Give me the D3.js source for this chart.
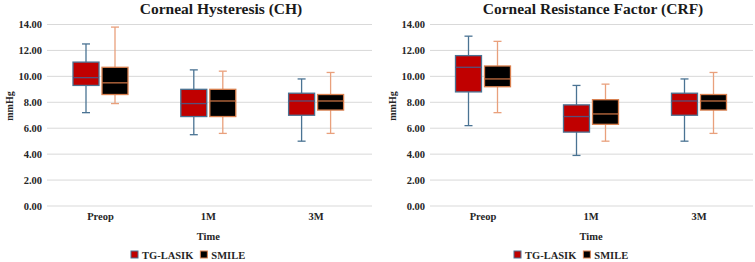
<!DOCTYPE html>
<html>
<head>
<meta charset="utf-8">
<script src="https://cdn.jsdelivr.net/npm/d3@7"></script>
<style>
  body { margin: 0; background: #fff; }
  svg text { font-family: "Liberation Serif", "Times New Roman", serif !important; font-weight: bold; }
</style>
</head>
<body>
<div class="chart"></div>
<script>
// ------------------------------------------ data ------------------------------------------
const timepoints = ["Preop", "1M", "3M"];
const groups = ["TG-LASIK", "SMILE"];
const yTicks = [0, 2, 4, 6, 8, 10, 12, 14];

// each entry: [whisker min, q1, median, q3, whisker max]
const chLasik = [[7.2, 9.3, 9.9, 11.1, 12.5], [5.5, 6.9, 7.9, 9.0, 10.5], [5.0, 7.0, 8.1, 8.7, 9.8]];
const chSmile = [[7.9, 8.6, 9.5, 10.7, 13.8], [5.6, 6.9, 8.1, 9.0, 10.4], [5.6, 7.4, 8.1, 8.6, 10.3]];
const crfLasik = [[6.2, 8.8, 10.7, 11.6, 13.1], [3.9, 5.7, 6.9, 7.8, 9.3], [5.0, 7.0, 8.1, 8.7, 9.8]];
const crfSmile = [[7.2, 9.2, 9.8, 10.8, 12.7], [5.0, 6.3, 7.1, 8.2, 9.4], [5.6, 7.4, 8.1, 8.6, 10.3]];

// colours (excel style box plot)
const fills = { "TG-LASIK": "#c00000", "SMILE": "#000000" };
const strokes = { "TG-LASIK": "#4a7393", "SMILE": "#d9804f" };
const whiskerCol = { "TG-LASIK": "#4a7393", "SMILE": "#e9a07c" };
const medianCol = { "TG-LASIK": "#574f78", "SMILE": "#c46f42" };

const svg = d3.select(".chart").append("svg")
    .attr("width", 755)
    .attr("height", 262);

// ------------------------------------------ one panel ------------------------------------------
function drawPanel(opt) {
    const g = svg.append("g");

    const y = d3.scaleLinear().domain([0, 14]).range([206, 24.5]);
    const x = d3.scaleBand().domain(timepoints).range([opt.x0, opt.x1]);
    const xSub = d3.scaleBand().domain(groups).range([-27.5, 27.5]).paddingInner(3 / 29);

    // gridlines
    g.selectAll(".grid")
        .data(yTicks)
        .enter().append("line")
        .attr("x1", opt.gx0).attr("x2", opt.gx1)
        .attr("y1", d => y(d)).attr("y2", d => y(d))
        .attr("stroke", "#d9d9d9")
        .attr("stroke-width", 1);

    // y axis labels
    const yAxis = d3.axisLeft(y).tickValues(yTicks).tickFormat(d3.format(".2f")).tickSize(0).tickPadding(0);
    const ya = g.append("g")
        .attr("transform", "translate(" + (opt.gx0 - 5) + ",0)")
        .call(yAxis);
    ya.select(".domain").remove();
    ya.selectAll("text")
        .attr("font-size", "10.5px")
        .attr("fill", "#262626");

    // x axis labels
    const xAxis = d3.axisBottom(x).tickSize(0).tickPadding(0);
    const xa = g.append("g")
        .attr("transform", "translate(0,213)")
        .call(xAxis);
    xa.select(".domain").remove();
    xa.selectAll("text")
        .attr("font-size", "10.5px")
        .attr("fill", "#262626");

    // boxes
    groups.forEach((grp, gi) => {
        const vals = opt.series[gi];
        const w = xSub.bandwidth();
        vals.forEach((v, i) => {
            const cx = x(timepoints[i]) + x.bandwidth() / 2 + xSub(grp) + w / 2;
            const b = g.append("g");
            // whiskers
            b.append("line")
                .attr("x1", cx).attr("x2", cx)
                .attr("y1", y(v[4])).attr("y2", y(v[0]))
                .attr("stroke", whiskerCol[grp]).attr("stroke-width", 1.3);
            [v[0], v[4]].forEach(val => {
                b.append("line")
                    .attr("x1", cx - 4).attr("x2", cx + 4)
                    .attr("y1", y(val)).attr("y2", y(val))
                    .attr("stroke", whiskerCol[grp]).attr("stroke-width", 1.3);
            });
            // box
            b.append("rect")
                .attr("x", cx - w / 2)
                .attr("y", y(v[3]))
                .attr("width", w)
                .attr("height", y(v[1]) - y(v[3]))
                .attr("fill", fills[grp])
                .attr("stroke", strokes[grp])
                .attr("stroke-width", 1.3);
            // median
            b.append("line")
                .attr("x1", cx - w / 2).attr("x2", cx + w / 2)
                .attr("y1", y(v[2])).attr("y2", y(v[2]))
                .attr("stroke", medianCol[grp]).attr("stroke-width", 1.3);
        });
    });

    // title
    g.append("text")
        .attr("x", opt.titleX).attr("y", 14)
        .attr("text-anchor", "middle")
        .attr("font-size", "15.5px")
        .attr("fill", "#1a1a1a")
        .text(opt.title);

    // y label
    g.append("text")
        .attr("transform", "translate(" + opt.ylabX + ",106) rotate(-90)")
        .attr("text-anchor", "middle")
        .attr("font-size", "10px")
        .attr("fill", "#262626")
        .text("mmHg");

    // x label
    g.append("text")
        .attr("x", (opt.x0 + opt.x1) / 2).attr("y", 240)
        .attr("text-anchor", "middle")
        .attr("font-size", "10.5px")
        .attr("fill", "#262626")
        .text("Time");

    // legend
    const leg = g.append("g").attr("transform", "translate(" + opt.legX + ",257)");
    let lx = 0;
    groups.forEach(grp => {
        leg.append("rect")
            .attr("x", lx).attr("y", -6)
            .attr("width", 7).attr("height", 7)
            .attr("fill", fills[grp])
            .attr("stroke", strokes[grp])
            .attr("stroke-width", 1);
        const t = leg.append("text")
            .attr("x", lx + 11).attr("y", 1.5)
            .attr("font-size", "10.5px")
            .attr("fill", "#262626")
            .text(grp);
        lx += 11 + t.node().getComputedTextLength() + 7;
    });
}

drawPanel({
    title: "Corneal Hysteresis (CH)",
    series: [chLasik, chSmile],
    x0: 46.6, x1: 370, gx0: 47, gx1: 372,
    titleX: 221, ylabX: 13, legX: 131
});

drawPanel({
    title: "Corneal Resistance Factor (CRF)",
    series: [crfLasik, crfSmile],
    x0: 429, x1: 753, gx0: 430, gx1: 753,
    titleX: 593, ylabX: 396, legX: 514
});
</script>
</body>
</html>
